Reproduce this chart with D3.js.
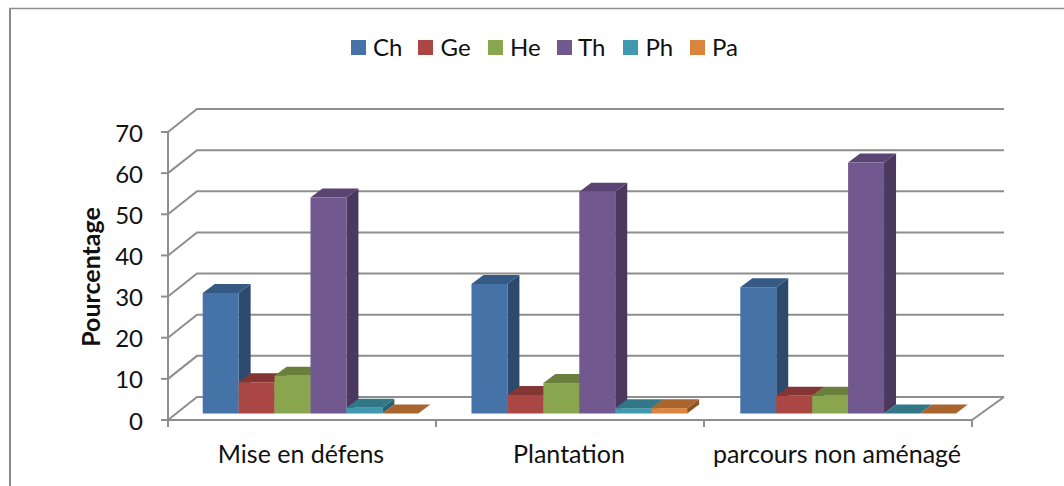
<!DOCTYPE html>
<html><head><meta charset="utf-8">
<script src="https://cdn.jsdelivr.net/npm/d3@7"></script>
<style>html,body{margin:0;padding:0;background:#fff}svg{display:block}text{font-family:Lato,"Open Sans",sans-serif;fill:#111}</style>
</head><body><svg id="c" width="1064" height="486"></svg>
<script>
const categories = ["Mise en défens", "Plantation", "parcours non aménagé"];
const seriesNames = ["Ch", "Ge", "He", "Th", "Ph", "Pa"];
const seriesFront = ["#4572a7", "#aa4643", "#89a54e", "#71588f", "#4198af", "#db843d"];
const seriesTop = ["#345a85", "#843634", "#6b7f3c", "#5a4472", "#317788", "#a9652d"];
const seriesSide = ["#2c4a6e", "#6e2d2b", "#596a32", "#4a385f", "#296371", "#8d5425"];
const chValues = [29.3, 31.5, 30.7];
const geValues = [7.6, 4.5, 4.3];
const heValues = [9.2, 7.4, 4.3];
const thValues = [52.5, 53.9, 61];
const phValues = [1.4, 1.3, 0];
const paValues = [0, 1.3, 0];
const allValues = [chValues, geValues, heValues, thValues, phValues, paValues];
const yTicks = [0, 10, 20, 30, 40, 50, 60, 70];

const svg = d3.select("#c");
const defs = svg.append("defs");
defs.append("filter").attr("id","soft").attr("x","-5%").attr("y","-20%").attr("width","110%").attr("height","140%")
  .append("feGaussianBlur").attr("stdDeviation",0.5);

const y = d3.scaleLinear().domain([0, 70]).range([420, 132]);
const x0 = d3.scaleBand().domain(categories).range([168, 972]);
const xBars = d3.scaleBand().domain(categories).range([202.7, 202.7 + 3 * 268.8]);
const x1 = d3.scaleBand().domain(seriesNames).range([0, 215.6]);

const wall = {dx: 30, dy: -23};
const base = {dy: -6.5};
const bar = {dx: 12, dy: -9};
const gray = "#8e8e8e";

// border of the picture
svg.append("path").attr("d","M10,486V8.5H1064").attr("fill","none").attr("stroke","#909090").attr("stroke-width",1.5);
svg.append("path").attr("d","M10,486V8").attr("fill","none").attr("stroke","#8a8a8a").attr("stroke-width",2);

// gridlines
const grid = svg.append("g").attr("fill","none").attr("stroke",gray).attr("stroke-width",2).attr("filter","url(#soft)");
yTicks.forEach(v=>{
  const p = d3.path();
  p.moveTo(168, y(v)); p.lineTo(168+wall.dx-1, y(v)+wall.dy); p.lineTo(972+wall.dx+2, y(v)+wall.dy);
  grid.append("path").attr("d", p.toString());
});
// floor & axes
const fl = d3.path();
fl.moveTo(161, y(0)); fl.lineTo(972, y(0)); fl.lineTo(972+wall.dx+2, y(0)+wall.dy);
grid.append("path").attr("d", fl.toString());
grid.append("path").attr("d", `M168,${y(70)}V${y(0)+7}`);
yTicks.forEach(v=>grid.append("path").attr("d",`M161,${y(v)}H168`));
const edges = categories.map(c=>x0(c)).concat([972]);
edges.forEach(e=>grid.append("path").attr("d",`M${e},${y(0)}V${y(0)+7}`));

// bars
const marks = svg.append("g");
categories.forEach((c,i)=>{
  seriesNames.forEach((s,j)=>{
    const v = allValues[j][i];
    const xl = xBars(c)+x1(s), w = x1.bandwidth();
    const yb = y(0)+base.dy, yt = y(v)+base.dy;
    const g = marks.append("g");
    if (v>0) g.append("path").attr("fill",seriesSide[j])
      .attr("d",`M${xl+w},${yt}L${xl+w+bar.dx},${yt+bar.dy}V${yb+bar.dy}L${xl+w},${yb}Z`);
    g.append("path").attr("fill",seriesTop[j])
      .attr("d",`M${xl},${yt}L${xl+bar.dx},${yt+bar.dy}H${xl+w+bar.dx}L${xl+w},${yt}Z`);
    if (v>0) g.append("rect").attr("x",xl).attr("y",yt).attr("width",w).attr("height",yb-yt).attr("fill",seriesFront[j]);
  });
});

// y labels
svg.append("g").selectAll("text").data(yTicks).join("text")
  .attr("x",143).attr("y",d=>y(d)+9.5).attr("text-anchor","end").attr("font-size",24).text(d=>d);
// x labels
svg.append("g").selectAll("text").data(categories).join("text")
  .attr("x",d=>x0(d)+x0.bandwidth()/2-1).attr("y",463).attr("text-anchor","middle").attr("font-size",25).text(d=>d);
// axis title
svg.append("text").attr("transform","translate(100,277) rotate(-90)").attr("text-anchor","middle")
  .attr("font-size",25).attr("font-weight",700).text("Pourcentage");

// legend
const legX = [351,418,488,557,623,690], legT = [373,440.5,510,578,645.5,712];
const leg = svg.append("g");
seriesNames.forEach((s,j)=>{
  leg.append("rect").attr("x",legX[j]).attr("y",40).attr("width",15).attr("height",15).attr("fill",seriesFront[j]);
  leg.append("text").attr("x",legT[j]).attr("y",56).attr("font-size",24).text(s);
});
</script></body></html>
